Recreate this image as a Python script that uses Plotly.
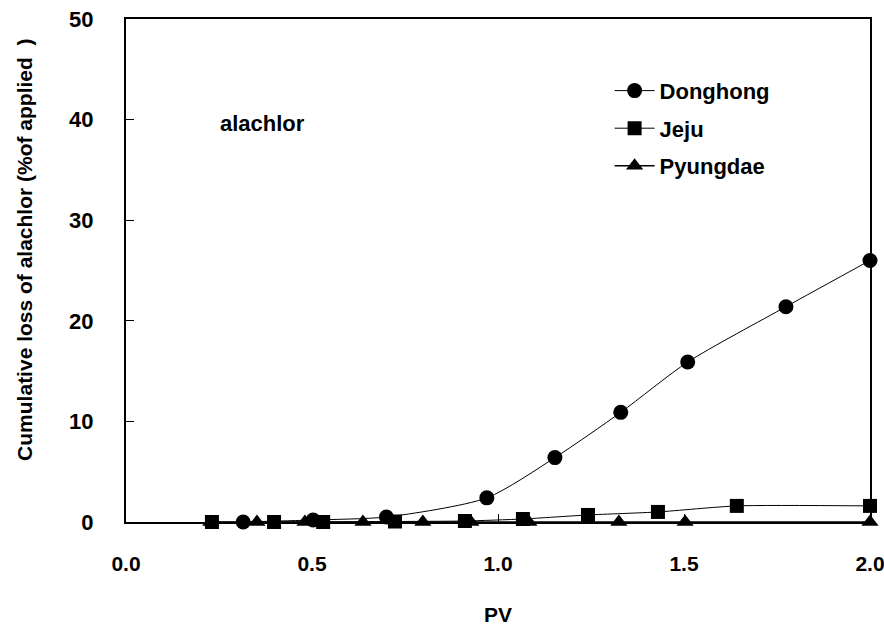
import plotly.graph_objects as go

# Data
don_x = [0.315, 0.503, 0.70, 0.97, 1.153, 1.33, 1.51, 1.774, 2.0]
don_y = [0.0, 0.2, 0.5, 2.4, 6.4, 10.9, 15.9, 21.4, 26.0]

jeju_x = [0.231, 0.398, 0.53, 0.723, 0.911, 1.067, 1.242, 1.43, 1.642, 2.0]
jeju_y = [0.0, 0.0, 0.0, 0.05, 0.1, 0.3, 0.7, 1.0, 1.6, 1.6]

pyu_x = [0.228, 0.352, 0.481, 0.637, 0.798, 0.927, 1.083, 1.325, 1.503, 2.0]
pyu_y = [0.0, 0.0, 0.0, 0.0, 0.0, 0.0, 0.0, 0.0, 0.0, 0.0]

x_ticks = [0.0, 0.5, 1.0, 1.5, 2.0]
y_ticks = [0, 10, 20, 30, 40, 50]

FONT = "Liberation Sans, Arial, sans-serif"

fig = go.Figure()
fig.add_trace(go.Scatter(x=don_x, y=don_y, name="Donghong", mode="lines+markers",
                         legendgroup="a", cliponaxis=False,
                         line=dict(color="black", width=1, shape="spline", smoothing=0.7),
                         marker=dict(symbol="circle", size=15, color="black")))
fig.add_trace(go.Scatter(x=jeju_x, y=jeju_y, name="Jeju", mode="lines+markers",
                         legendgroup="b", cliponaxis=False,
                         line=dict(color="black", width=1, shape="spline", smoothing=0.6),
                         marker=dict(symbol="square", size=14, color="black")))
fig.add_trace(go.Scatter(x=pyu_x, y=pyu_y, name="Pyungdae", mode="lines+markers",
                         legendgroup="c", cliponaxis=False,
                         line=dict(color="black", width=1.5),
                         marker=dict(symbol="triangle-up", size=15, color="black")))

fig.update_layout(
    width=884, height=639,
    margin=dict(l=126, r=14, t=19, b=117, autoexpand=False),
    plot_bgcolor="white", paper_bgcolor="white",
    font=dict(family=FONT, size=22, color="black", weight="bold"),
    showlegend=True,
    legend=dict(x=0.650, y=0.899, xanchor="left", yanchor="top",
                bgcolor="rgba(0,0,0,0)", font=dict(size=22, family=FONT, weight="bold"),
                tracegroupgap=6, itemwidth=40),
    annotations=[
        dict(text="alachlor", x=0.366, y=39.6, xref="x", yref="y",
             xanchor="center", yanchor="middle", showarrow=False,
             font=dict(size=22, family=FONT, weight="bold")),
        dict(text="Cumulative loss of alachlor (%of applied \u00a0)", x=0, y=0.541,
             xref="paper", yref="paper", xshift=-101, textangle=-90,
             xanchor="center", yanchor="middle", showarrow=False,
             font=dict(size=21, family=FONT, weight="bold")),
    ],
)
fig.update_xaxes(range=[0, 2.0], tickvals=x_ticks, ticktext=[f"{v:.1f}" for v in x_ticks],
                 showline=True, linecolor="black", linewidth=2, mirror=True, automargin=False,
                 showgrid=False, zeroline=False, ticks="inside", ticklen=8,
                 tickcolor="black", tickwidth=1, ticklabelstandoff=22,
                 ticklabeloverflow="allow",
                 tickfont=dict(size=21, family=FONT, weight="bold"),
                 title=dict(text="PV", standoff=33, font=dict(size=21, family=FONT, weight="bold")))
fig.update_yaxes(range=[0, 50], tickvals=y_ticks,
                 showline=True, linecolor="black", linewidth=2, mirror=True, automargin=False,
                 showgrid=False, zeroline=False, ticks="inside", ticklen=8,
                 tickcolor="black", tickwidth=1, ticklabelstandoff=26,
                 tickfont=dict(size=22, family=FONT, weight="bold"))

fig.write_html("out.html")
